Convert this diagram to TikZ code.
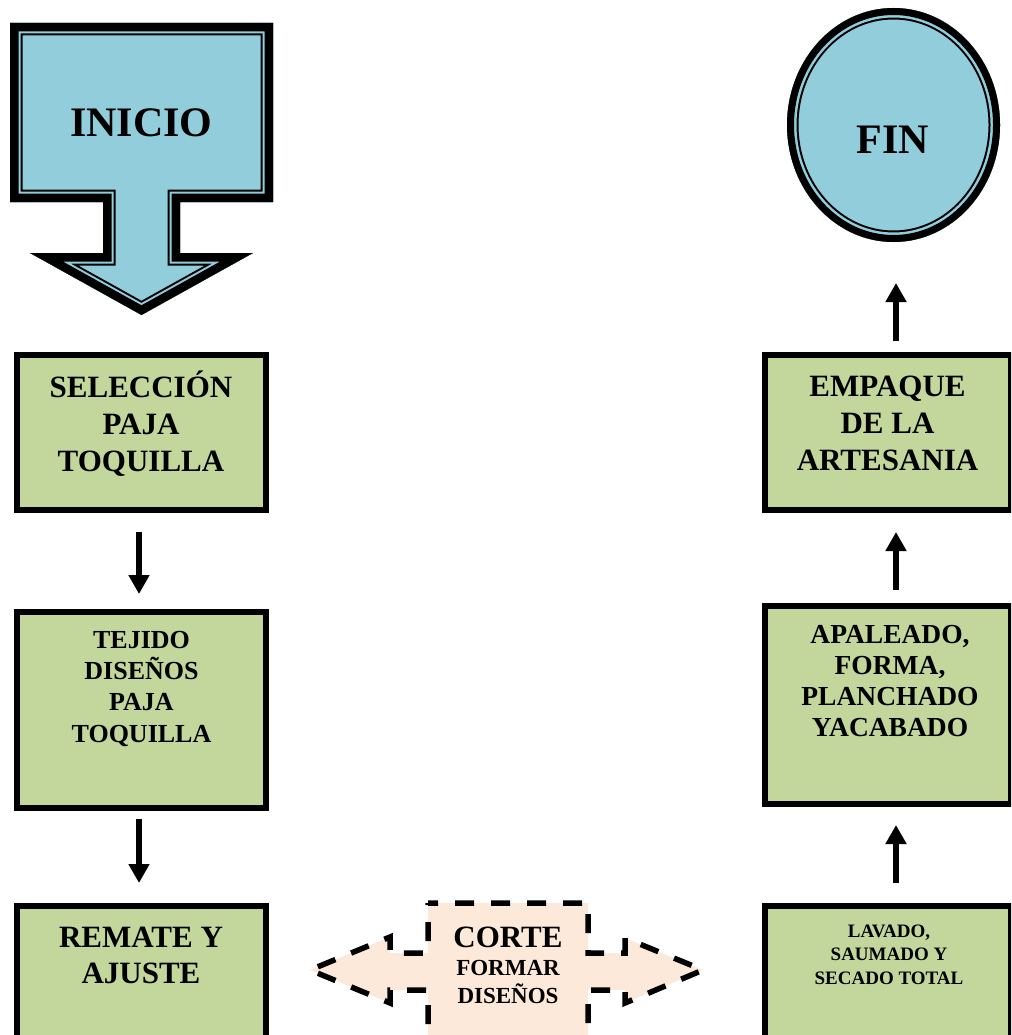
\documentclass[tikz,border=0pt]{standalone}
\usepackage{fontspec}
\setmainfont{Liberation Serif}
\usetikzlibrary{arrows.meta,shapes.geometric,calc}
\definecolor{lblue}{RGB}{146,205,220}
\definecolor{lgreen}{RGB}{195,214,155}
\definecolor{peach}{RGB}{253,233,217}
\begin{document}
\begin{tikzpicture}[x=1pt,y=-1pt,
  box/.style={draw=black, line width=6pt, fill=lgreen, rectangle, inner sep=0pt},
  txt/.style={align=center, anchor=base, inner sep=0pt},
  bigtxt/.style={txt, font=\bfseries\fontsize{31}{37}\selectfont},
  flow/.style={line width=6pt, -{Triangle[length=19pt,width=20pt]}},
  cortebox/.style={fill=peach, draw=black, line width=5.5pt, dash pattern=on 19pt off 17pt, dash phase=9pt},
]
\useasboundingbox (0,0) rectangle (1011,1035);
\clip (0,0) rectangle (1011,1035);

% ---------- INICIO arrow ----------
\def\inipath{(10,23) -- (273,23) -- (273,202) -- (180,202) -- (180,253) -- (253,253) -- (141.5,315) -- (30,253) -- (103,253) -- (103,202) -- (10,202) -- cycle}
\fill[lblue] \inipath;
\begin{scope}
  \clip \inipath;
  \draw[line width=25pt, black] \inipath;
  \draw[line width=21pt, lblue] \inipath;
  \draw[line width=17pt, black] \inipath;
\end{scope}
\node[txt, font=\bfseries\fontsize{42}{48}\selectfont] (ini) at (141.5,137) {INICIO};

% ---------- FIN ellipse ----------
\node[ellipse, minimum width=213pt, minimum height=234pt, inner sep=0pt, outer sep=0pt, fill=lblue] (fin) at (893.5,125) {};
\begin{scope}
  \clip (fin.center) ellipse [x radius=106.5pt, y radius=117pt];
  \draw[line width=23pt, black] (fin.center) ellipse [x radius=106.5pt, y radius=117pt];
  \draw[line width=19pt, lblue] (fin.center) ellipse [x radius=106.5pt, y radius=117pt];
  \draw[line width=14pt, black] (fin.center) ellipse [x radius=106.5pt, y radius=117pt];
\end{scope}
\node[txt, font=\bfseries\fontsize{42}{48}\selectfont] (fint) at (893,154) {FIN};

% ---------- left column ----------
\node[box, minimum width=249pt, minimum height=155pt] (sel) at (141.5,432.5) {};
\node[bigtxt] (selt) at (141,471) {SELECCIÓN\\PAJA\\TOQUILLA};

\node[box, minimum width=249pt, minimum height=196pt] (tej) at (141.5,710) {};
\node[txt, font=\bfseries\fontsize{26}{31.3}\selectfont] (tejt) at (141.5,742) {TEJIDO\\DISEÑOS\\PAJA\\TOQUILLA};

\node[box, minimum width=249pt, minimum height=174pt] (rem) at (141.5,993) {};
\node[txt, font=\bfseries\fontsize{31}{36}\selectfont] (remt) at (141,983) {REMATE Y\\AJUSTE};

% ---------- right column ----------
\node[box, minimum width=246pt, minimum height=155pt] (emp) at (888,432.5) {};
\node[bigtxt] (empt) at (887.5,470) {EMPAQUE\\DE LA\\ARTESANIA};

\node[box, minimum width=246pt, minimum height=198pt] (apa) at (888,705) {};
\node[txt, font=\bfseries\fontsize{27.5}{31}\selectfont] (apat) at (890,736) {APALEADO,\\FORMA,\\PLANCHADO\\YACABADO};

\node[box, minimum width=246pt, minimum height=174pt] (lav) at (888,993) {};
\node[txt, font=\bfseries\fontsize{19}{23.5}\selectfont] (lavt) at (889,984) {LAVADO,\\SAUMADO Y\\SECADO TOTAL};

% ---------- CORTE double arrow ----------
\path[cortebox] (428,903) -- (588,903) -- (588,953) -- (625,953) -- (625,938) -- (703,970) -- (625,1003) -- (625,990) -- (588,990) -- (588,1060) -- (428,1060) -- (428,990) -- (390,990) -- (390,1003) -- (310,970) -- (390,937) -- (390,953) -- (428,953) -- cycle;
\node[txt, font=\bfseries\fontsize{23}{28}\selectfont] (cortet) at (508,1003) {{\fontsize{31}{37}\selectfont CORTE}\\FORMAR\\DISEÑOS};

% ---------- connectors ----------
\draw[flow, shorten <=19pt, shorten >=15pt] ([xshift=-2.5pt]sel.south) -- ([xshift=-2.5pt]tej.north);
\draw[flow, shorten <=8pt, shorten >=20pt] ([xshift=-2.5pt]tej.south) -- ([xshift=-2.5pt]rem.north);
\draw[flow, shorten <=20pt, shorten >=18pt] ([xshift=8pt]lav.north) -- ([xshift=8pt]apa.south);
\draw[flow, shorten <=13pt, shorten >=19pt] ([xshift=8pt]apa.north) -- ([xshift=8pt]emp.south);
\draw[flow, shorten <=11pt, shorten >=41pt] ([xshift=8pt]emp.north) -- ([xshift=2.5pt]fin.south);
\end{tikzpicture}
\end{document}
